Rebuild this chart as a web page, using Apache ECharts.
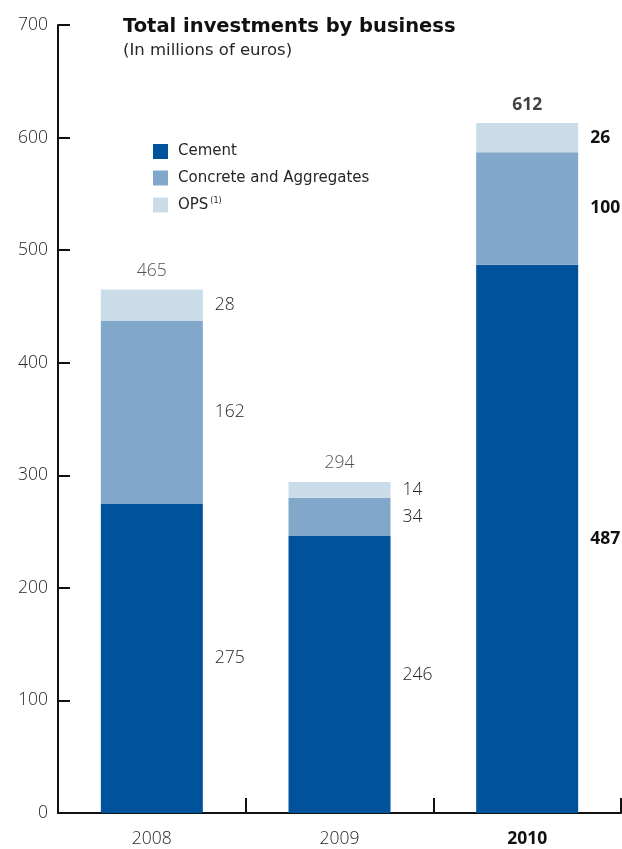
<!DOCTYPE html>
<html>
<head>
<meta charset="utf-8">
<script src="https://cdn.jsdelivr.net/npm/echarts@6/dist/echarts.min.js"></script>
<style>
  html, body { margin: 0; padding: 0; background: #fff; }
  #chart { width: 622px; height: 849px; }
</style>
</head>
<body>
<div id="chart"></div>
<script>
// Investment figures, millions of euros
const years = ['2008', '2009', '2010'];
const cement = [275, 246, 487];
const concreteAggregates = [162, 34, 100];
const ops = [28, 14, 26];
const totals = [465, 294, 612];
const yTicks = [0, 100, 200, 300, 400, 500, 600, 700];

const COLORS = { cement: '#00529B', concrete: '#81A8CB', ops: '#C9DCE8' };
const FONT = '"Open Sans", "DejaVu Sans", sans-serif';
const WIDE = '"DejaVu Sans", "Open Sans", sans-serif';
const TEXT = '#262626';
const NUM_SIZE = 17.5;

const boldLast = (i) => i === years.length - 1;

function segLabel() {
  return {
    show: true,
    position: 'right',
    distance: 12,
    fontFamily: FONT,
    fontSize: NUM_SIZE,
    fontWeight: 300,
    color: TEXT,
    formatter: (p) => String(p.value)
  };
}

function seriesData(arr) {
  return arr.map((v, i) => ({
    value: v,
    label: boldLast(i) ? { fontWeight: 'bold', color: '#111' } : {}
  }));
}

const chart = echarts.init(document.getElementById('chart'), null, { renderer: 'canvas' });

chart.setOption({
  animation: false,
  backgroundColor: '#ffffff',
  title: {
    text: 'Total investments by business',
    subtext: '(In millions of euros)',
    left: 118,
    top: 12,
    itemGap: 5,
    textStyle: { fontFamily: WIDE, fontSize: 19.5, fontWeight: 'bold', color: '#111' },
    subtextStyle: { fontFamily: WIDE, fontSize: 16.5, fontWeight: 'normal', color: TEXT }
  },
  legend: {
    left: 148,
    top: 139,
    orient: 'vertical',
    itemWidth: 15,
    itemHeight: 15,
    itemGap: 11.5,
    icon: 'rect',
    textStyle: {
      fontFamily: WIDE, fontSize: 15, color: TEXT, padding: [0, 0, 0, 5],
      rich: { sup: { fontFamily: WIDE, fontSize: 8, color: TEXT, verticalAlign: 'top', padding: [0, 0, 8, 2] } }
    },
    formatter: (name) => name === 'OPS' ? 'OPS{sup|(1)}' : name,
    data: ['Cement', 'Concrete and Aggregates', 'OPS']
  },
  grid: { left: 58, right: 1, top: 25, bottom: 36, containLabel: false },
  xAxis: {
    type: 'category',
    data: years,
    boundaryGap: true,
    axisLine: { lineStyle: { color: '#111', width: 2 } },
    axisTick: { show: true, inside: true, length: 15, lineStyle: { color: '#111', width: 2 } },
    axisLabel: {
      margin: 17,
      fontFamily: FONT,
      fontSize: NUM_SIZE,
      fontWeight: 300,
      color: TEXT,
      formatter: (v) => v === '2010' ? '{b|' + v + '}' : v,
      rich: { b: { fontFamily: FONT, fontSize: NUM_SIZE, fontWeight: 'bold', color: '#111' } }
    }
  },
  yAxis: {
    type: 'value',
    min: yTicks[0],
    max: yTicks[yTicks.length - 1],
    interval: 100,
    axisLine: { show: true, lineStyle: { color: '#111', width: 2 } },
    axisTick: { show: true, inside: true, length: 12, lineStyle: { color: '#111', width: 2 } },
    splitLine: { show: false },
    axisLabel: { margin: 10, fontFamily: FONT, fontSize: NUM_SIZE, fontWeight: 300, color: TEXT }
  },
  series: [
    {
      name: 'Cement', type: 'bar', stack: 'total', barWidth: 102,
      itemStyle: { color: COLORS.cement },
      label: segLabel(),
      data: seriesData(cement)
    },
    {
      name: 'Concrete and Aggregates', type: 'bar', stack: 'total', barWidth: 102,
      itemStyle: { color: COLORS.concrete },
      label: segLabel(),
      data: seriesData(concreteAggregates)
    },
    {
      name: 'OPS', type: 'bar', stack: 'total', barWidth: 102,
      itemStyle: { color: COLORS.ops },
      label: segLabel(),
      data: seriesData(ops)
    },
    {
      name: 'Total', type: 'scatter', symbolSize: 0, silent: true,
      label: {
        show: true, position: 'top', distance: 10,
        fontFamily: FONT, fontSize: NUM_SIZE, fontWeight: 300, color: TEXT,
        formatter: (p) => String(p.value)
      },
      data: seriesData(totals)
    }
  ]
});
</script>
</body>
</html>
